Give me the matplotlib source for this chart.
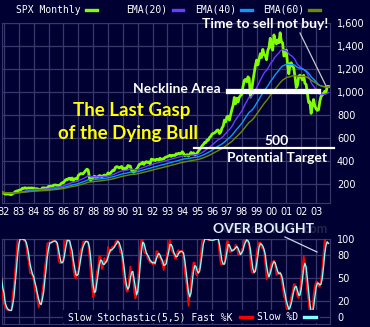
import numpy as np
import pandas as pd
import matplotlib
matplotlib.use("Agg")
import matplotlib.pyplot as plt
from matplotlib.patches import Rectangle

# S&P 500 monthly closes, Nov 1981 .. Nov 2003
spx_close = [
    126.35, 122.55,
    120.40, 113.11, 111.96, 116.44, 111.88, 109.61, 107.09, 119.51, 120.42, 133.72, 138.54, 140.64,
    145.30, 148.06, 152.96, 164.42, 162.39, 168.11, 162.56, 164.40, 166.07, 163.55, 166.40, 164.93,
    163.41, 157.06, 159.18, 160.05, 150.55, 153.18, 150.66, 166.68, 166.10, 166.09, 163.58, 167.24,
    179.63, 181.18, 180.66, 179.83, 189.55, 191.85, 190.92, 188.63, 182.08, 189.82, 202.17, 211.28,
    211.78, 226.92, 238.90, 235.52, 247.35, 250.84, 236.12, 252.93, 231.32, 243.98, 249.22, 242.17,
    274.08, 284.20, 291.70, 288.36, 290.10, 304.00, 318.66, 329.80, 321.83, 251.79, 230.30, 247.08,
    257.07, 267.82, 258.89, 261.33, 262.16, 273.50, 272.02, 261.52, 271.91, 278.97, 273.70, 277.72,
    297.47, 288.86, 294.87, 309.64, 320.52, 317.98, 346.08, 351.45, 349.15, 340.36, 345.99, 353.40,
    329.08, 331.89, 339.94, 330.80, 361.23, 358.02, 356.15, 322.56, 306.05, 304.00, 322.22, 330.22,
    343.93, 367.07, 375.22, 375.35, 389.83, 371.16, 387.81, 395.43, 387.86, 392.46, 375.22, 417.09,
    408.79, 412.70, 403.69, 414.95, 415.35, 408.14, 424.21, 414.03, 417.80, 418.68, 431.35, 435.71,
    438.78, 443.38, 451.67, 440.19, 450.19, 450.53, 448.13, 463.56, 458.93, 467.83, 461.79, 466.45,
    481.61, 467.14, 445.77, 450.91, 456.50, 444.27, 458.26, 475.49, 462.69, 472.35, 453.69, 459.27,
    470.42, 487.39, 500.71, 514.71, 533.40, 544.75, 562.06, 561.88, 584.41, 581.50, 605.37, 615.93,
    636.02, 640.43, 645.50, 654.17, 669.12, 670.63, 639.95, 651.99, 687.31, 705.27, 757.02, 740.74,
    786.16, 790.82, 757.12, 801.34, 848.28, 885.14, 954.29, 899.47, 947.28, 914.62, 955.40, 970.43,
    980.28, 1049.34, 1101.75, 1111.75, 1090.82, 1133.84, 1120.67, 957.28, 1017.01, 1098.67, 1163.63, 1229.23,
    1279.64, 1238.33, 1286.37, 1335.18, 1301.84, 1372.71, 1328.72, 1320.41, 1282.71, 1362.93, 1388.91, 1469.25,
    1394.46, 1366.42, 1498.58, 1452.43, 1420.60, 1454.60, 1430.83, 1517.68, 1436.51, 1429.40, 1314.95, 1320.28,
    1366.01, 1239.94, 1160.33, 1249.46, 1255.82, 1224.42, 1211.23, 1133.58, 1040.94, 1059.78, 1139.45, 1148.08,
    1130.20, 1106.73, 1147.39, 1076.92, 1067.14, 989.82, 911.62, 916.07, 815.28, 885.76, 936.31, 879.82,
    855.70, 841.15, 848.18, 916.92, 963.59, 974.50, 990.31, 1008.01, 995.97, 1050.71, 1050.00,
]
start = 1981 + 10 / 12
years = list(range(1982, 2004))
year_labels = [f"{y % 100:02d}" for y in years]
price_ticks = [200, 400, 600, 800, 1000, 1200, 1400, 1600]
stoch_ticks = [0, 20, 50, 80, 100]
ema_spans = [20, 40, 60]

BG = "#000033"
GRID = "#38386c"
GREEN = "#80ff00"
EMA_COLORS = ["#6a3cff", "#0a9aff", "#6e8c00"]
RED = "#ff0000"
CYAN = "#80ffff"

close = pd.Series(spx_close)
t = start + np.arange(len(close)) / 12

# slow stochastic (5,5) on the monthly closes
lo = close.rolling(5, min_periods=1).min()
hi = close.rolling(5, min_periods=1).max()
raw_k = (100 * (close - lo) / (hi - lo).replace(0, np.nan)).fillna(50)
fast_k = raw_k.rolling(5, min_periods=1).mean()
slow_d = fast_k.rolling(3, min_periods=1).mean()

W, H = 370, 327
fig = plt.figure(figsize=(W / 100, H / 100), dpi=100, facecolor=BG)


def fx(px):
    return px / W


def fy(py):
    return 1 - py / H


ax = fig.add_axes([fx(2), fy(203), (330 - 2) / W, (203 - 23.3) / H], facecolor=BG)
ax2 = fig.add_axes([fx(2), fy(324), (330 - 2) / W, (324 - 239) / H], facecolor=BG)

x0 = 1982 - 2 / 14.86
x1 = 1982 + 326 / 14.86

# price panel
ax.plot(t, close, color=GREEN, lw=2.0, zorder=3)
for span, c in zip(ema_spans, EMA_COLORS):
    ax.plot(t, close.ewm(span=span, adjust=False).mean(), color=c, lw=1.0, zorder=4)
ax.set_xlim(x0, x1)
ax.set_ylim(35, 1600)
ax.set_xticks(years)
ax.set_xticklabels(year_labels)
ax.set_yticks(price_ticks)
ax.set_yticklabels([f"{v:,}" for v in price_ticks])
ax.yaxis.tick_right()
ax.tick_params(axis="both", length=0, colors="white", labelsize=7)
ax.tick_params(axis="x", pad=3)
ax.tick_params(axis="y", pad=5)
ax.grid(True, color=GRID, lw=0.9)
ax.set_axisbelow(True)
for s in ax.spines.values():
    s.set_color(GRID)

# stochastic panel
ax2.plot(t, fast_k, color=RED, lw=1.2, zorder=3)
ax2.plot(t, slow_d, color=CYAN, lw=1.0, zorder=4)
ax2.set_xlim(x0, x1)
ax2.set_ylim(-9, 100)
ax2.set_xticks(years)
ax2.set_xticklabels([])
ax2.set_yticks(stoch_ticks)
ax2.yaxis.tick_right()
ax2.tick_params(axis="both", length=0, colors="white", labelsize=7)
ax2.tick_params(axis="y", pad=5)
ax2.grid(True, color=GRID, lw=0.9)
ax2.set_axisbelow(True)
for s in ax2.spines.values():
    s.set_color(GRID)

# legends
mono = dict(family="DejaVu Sans Mono", fontsize=7, color="white", va="center")
fig.text(fx(16), fy(10), "SPX Monthly", **mono)
fig.text(fx(126), fy(10), "EMA(20)", **mono)
fig.text(fx(195), fy(10), "EMA(40)", **mono)
fig.text(fx(263), fy(10), "EMA(60)", **mono)
for (a, b), c in zip([(86, 97), (173, 183), (241, 252), (309, 320)],
                     [GREEN] + EMA_COLORS):
    fig.add_artist(plt.Line2D([fx(a), fx(b)], [fy(10), fy(10)], color=c, lw=2.4))

ax2.add_patch(Rectangle((fx(63), fy(323)), fx(320) - fx(63), fy(310) - fy(323),
                        transform=fig.transFigure, facecolor=BG, edgecolor="none",
                        zorder=5))
fig.text(fx(68), fy(317), "Slow Stochastic(5,5) Fast %K", zorder=6, **mono)
fig.text(fx(257), fy(317), "Slow %D", zorder=6, **mono)
fig.add_artist(plt.Line2D([fx(240), fx(252)], [fy(317), fy(317)], color=RED, lw=2.4, zorder=6))
fig.add_artist(plt.Line2D([fx(304), fx(316)], [fy(317), fy(317)], color=CYAN, lw=2.4, zorder=6))

# annotations
bold = dict(family="Lato", fontweight="bold", color="white")
fig.text(fx(132), fy(116), "The Last Gasp", ha="center", va="baseline",
         fontsize=13.5, family="Lato", fontweight="bold", color="#ffff00")
fig.text(fx(128.5), fy(139), "of the Dying Bull", ha="center", va="baseline",
         fontsize=13.5, family="Lato", fontweight="bold", color="#ffff00")
fig.text(fx(133), fy(93), "Neckline Area", ha="left", va="baseline", fontsize=10, **bold)
fig.add_artist(plt.Line2D([fx(228), fx(318)], [fy(91), fy(91)], color="white", lw=3.8))
fig.text(fx(277), fy(145), "500", ha="center", va="baseline", fontsize=10, **bold)
fig.add_artist(plt.Line2D([fx(194), fx(334)], [fy(148), fy(148)], color="white", lw=1.6))
fig.text(fx(227), fy(161.5), "Potential Target", ha="left", va="baseline", fontsize=10, **bold)
fig.text(fx(202), fy(28.3), "Time to sell not buy!", ha="left", va="baseline", fontsize=10, **bold)
fig.add_artist(plt.Line2D([fx(300), fx(326)], [fy(33), fy(86)], color="#c8c8c8", lw=0.9))

fig.text(fx(328), fy(233), "\u00a9StockCharts.com", ha="right", va="baseline",
         fontsize=9, color="#24244c", family="Lato", fontweight="bold")
fig.text(fx(213), fy(233), "OVER BOUGHT", ha="left", va="baseline", fontsize=10,
         family="Lato", fontweight="bold", color="#dff0ff")
fig.add_artist(plt.Line2D([fx(285), fx(317)], [fy(237), fy(252)], color="#c8d8e8", lw=0.9))

fig.savefig("out.png", dpi=100, facecolor=BG)
